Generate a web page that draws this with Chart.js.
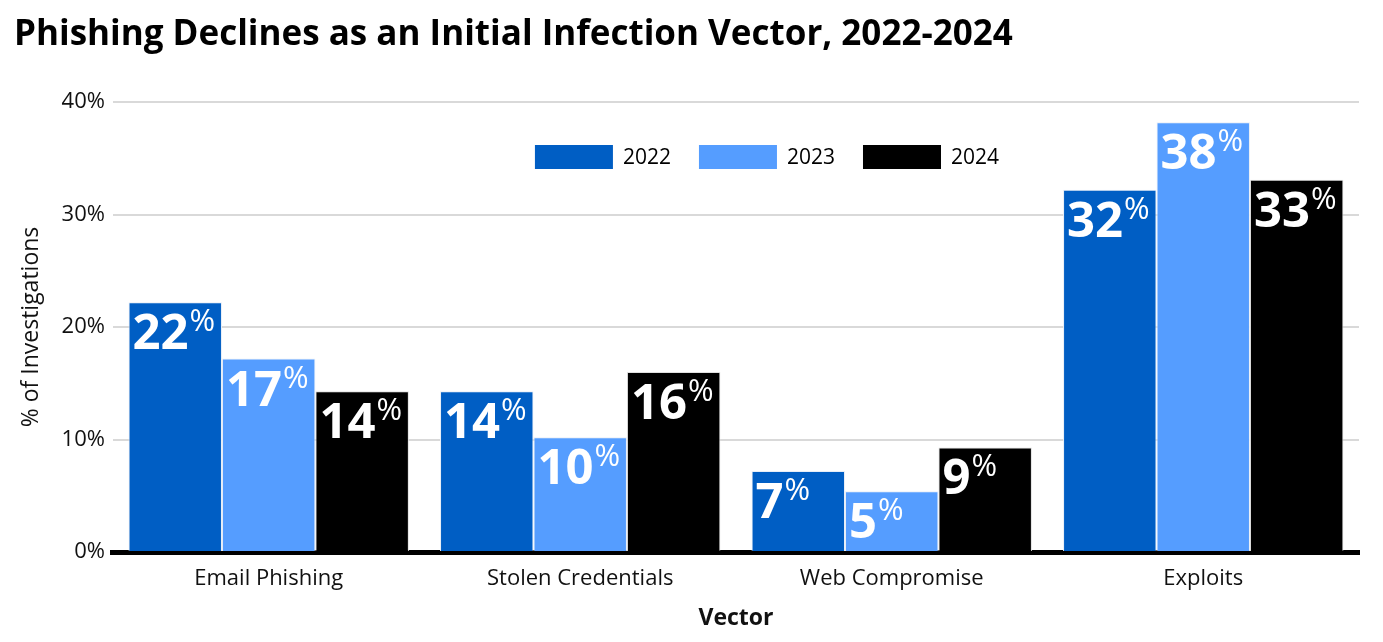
<!DOCTYPE html>
<html><head><meta charset="utf-8">
<script src="https://cdn.jsdelivr.net/npm/chart.js@4.4.1/dist/chart.umd.min.js"></script>
<style>html,body{margin:0;padding:0;background:#fff;}#wrap{width:1383px;height:642px;}</style>
</head><body><div id="wrap"><canvas id="c"></canvas></div>
<script>
const categories = ["Email Phishing", "Stolen Credentials", "Web Compromise", "Exploits"];
const years = ["2022", "2023", "2024"];
const values2022 = [22.2, 14.3, 7.2, 32.2];
const values2023 = [17.2, 10.2, 5.4, 38.2];
const values2024 = [14.3, 16.0, 9.3, 33.1];
const labels2022 = ["22", "14", "7", "32"];
const labels2023 = ["17", "10", "5", "38"];
const labels2024 = ["14", "16", "9", "33"];
const yTicks = [0, 10, 20, 30, 40];

const FONT = "'Open Sans', sans-serif";
const colors = ["#005EC4", "#559DFF", "#000000"];
const labelSets = [labels2022, labels2023, labels2024];

const barLabelPlugin = {
  id: 'barLabels',
  afterDatasetsDraw(chart) {
    const ctx = chart.ctx;
    chart.data.datasets.forEach((ds, di) => {
      const meta = chart.getDatasetMeta(di);
      meta.data.forEach((bar, i) => {
        const left = bar.x - bar.width / 2;
        const top = bar.y;
        const txt = labelSets[di][i];
        ctx.save();
        ctx.fillStyle = '#fff';
        ctx.textBaseline = 'alphabetic';
        ctx.textAlign = 'left';
        ctx.font = "bold 49px " + FONT;
        const x0 = left + 4;
        const base = top + 47;
        ctx.fillText(txt, x0, base);
        const w = ctx.measureText(txt).width;
        ctx.font = "31px " + FONT;
        ctx.fillText('%', x0 + w + 1, base - 18);
        ctx.restore();
      });
    });
  }
};

const legendPlugin = {
  id: 'innerLegend',
  afterDraw(chart) {
    const ctx = chart.ctx;
    const ca = chart.chartArea;
    ctx.save();
    ctx.font = "21px " + FONT;
    ctx.textBaseline = 'middle';
    ctx.textAlign = 'left';
    const boxW = 78, boxH = 24, gapText = 10, gapItem = 28;
    const items = chart.data.datasets.map(ds => ({ label: ds.label, color: ds.backgroundColor, w: ctx.measureText(ds.label).width }));
    let total = 0;
    items.forEach((it, k) => { total += boxW + gapText + it.w + (k < items.length - 1 ? gapItem : 0); });
    let x = (ca.left + ca.right) / 2 + 31 - total / 2;
    const cy = ca.top + 55;
    items.forEach(it => {
      ctx.fillStyle = it.color;
      ctx.fillRect(x, cy - boxH / 2, boxW, boxH);
      ctx.fillStyle = '#000';
      ctx.fillText(it.label, x + boxW + gapText, cy + 1);
      x += boxW + gapText + it.w + gapItem;
    });
    ctx.restore();
  }
};

new Chart(document.getElementById('c'), {
  type: 'bar',
  data: {
    labels: categories,
    datasets: [
      { label: years[0], data: values2022, backgroundColor: colors[0], borderColor: '#e8eef7', borderWidth: 1 },
      { label: years[1], data: values2023, backgroundColor: colors[1], borderColor: '#e8eef7', borderWidth: 1 },
      { label: years[2], data: values2024, backgroundColor: colors[2], borderColor: '#e0e0e0', borderWidth: 1 }
    ]
  },
  options: {
    responsive: true,
    maintainAspectRatio: false,
    animation: false,
    layout: { padding: { left: 14, right: 24, top: 8, bottom: 6 } },
    datasets: { bar: { categoryPercentage: 0.9, barPercentage: 1.0 } },
    plugins: {
      title: {
        display: true,
        text: 'Phishing Declines as an Initial Infection Vector, 2022-2024',
        align: 'start',
        color: '#000',
        font: { family: FONT, size: 35, weight: 'bold' },
        padding: { top: 6, bottom: 46 }
      },
      legend: { display: false },
      tooltip: { enabled: false }
    },
    scales: {
      x: {
        grid: { display: false },
        border: { display: true, color: '#000', width: 5 },
        ticks: { color: '#111', font: { family: FONT, size: 22 }, padding: 6 },
        title: { display: true, text: 'Vector', color: '#111', font: { family: FONT, size: 23, weight: 'bold' }, padding: { top: 6 } }
      },
      y: {
        min: 0, max: 40,
        afterBuildTicks(axis) { axis.ticks = yTicks.map(v => ({ value: v })); },
        grid: { color: '#d9d9d9', lineWidth: 2, drawTicks: false },
        border: { display: false },
        ticks: { color: '#111', font: { family: FONT, size: 22 }, padding: 8, callback: v => v + '%' },
        title: { display: true, text: '% of Investigations', color: '#111', font: { family: FONT, size: 23 }, padding: { bottom: 8 } }
      }
    }
  },
  plugins: [barLabelPlugin, legendPlugin]
});
</script></body></html>
